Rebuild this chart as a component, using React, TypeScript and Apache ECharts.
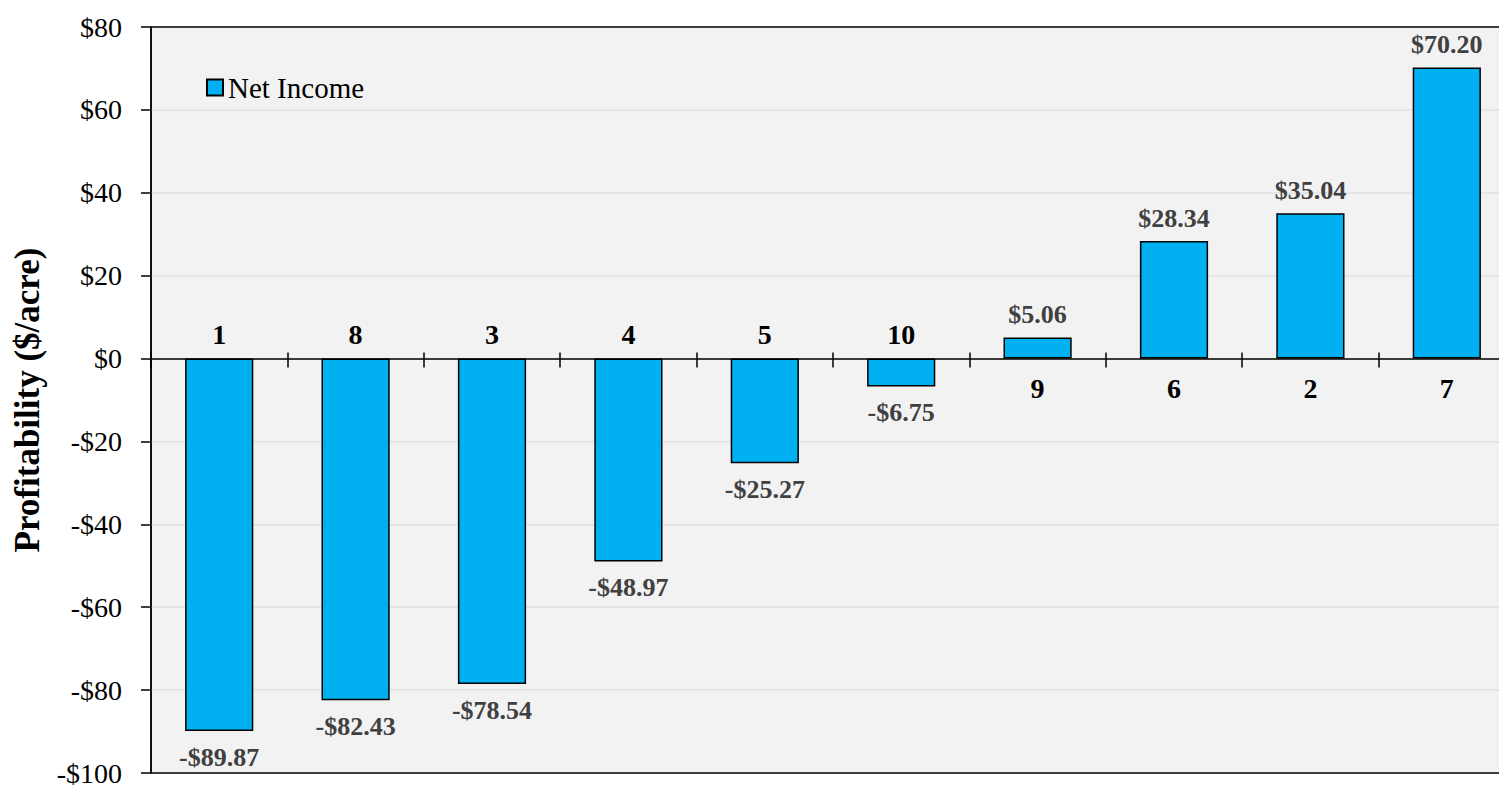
import React, { useEffect, useRef } from "react";
import * as echarts from "echarts";

const categories = ["1", "8", "3", "4", "5", "10", "9", "6", "2", "7"];
const netIncome = [-89.87, -82.43, -78.54, -48.97, -25.27, -6.75, 5.06, 28.34, 35.04, 70.2];
const yTicks = { min: -100, max: 80, interval: 20 };

const FONT = "'Liberation Serif', 'Times New Roman', serif";

const money = (v: number, digits: number) =>
  v < 0 ? "-$" + Math.abs(v).toFixed(digits) : "$" + v.toFixed(digits);

export default function App() {
  const ref = useRef<HTMLDivElement>(null);
  useEffect(() => {
    if (!ref.current) return;
    const chart = echarts.init(ref.current, undefined, { renderer: "svg" });
    chart.setOption({
      animation: false,
      backgroundColor: "#ffffff",
      textStyle: { fontFamily: FONT },
      legend: {
        show: true,
        left: 201,
        top: 68,
        icon: "rect",
        itemWidth: 16,
        itemHeight: 16,
        itemGap: 4,
        textStyle: { fontFamily: FONT, fontSize: 29, fontWeight: "normal", color: "#000" },
        data: ["Net Income"],
      },
      grid: {
        left: 151,
        top: 27,
        width: 1364,
        height: 746,
        outerBoundsMode: "none",
        containLabel: false,
        show: true,
        backgroundColor: "#f2f2f2",
        borderColor: "#000",
        borderWidth: 1.5,
      },
      xAxis: [
        {
          type: "category",
          data: categories,
          position: "bottom",
          axisLine: { onZero: true, onZeroAxisIndex: 0, lineStyle: { color: "#000", width: 1.5 } },
          axisTick: { show: true, length: 9, lineStyle: { color: "#000", width: 1.5 } },
          axisLabel: { show: false },
          splitLine: { show: false },
        },
        {
          type: "category",
          data: categories,
          position: "bottom",
          axisLine: { show: false, onZero: true, onZeroAxisIndex: 0 },
          axisTick: { show: true, inside: true, length: 6, lineStyle: { color: "#000", width: 1.5 } },
          axisLabel: { show: false },
          splitLine: { show: false },
        },
      ],
      yAxis: {
        type: "value",
        min: yTicks.min,
        max: yTicks.max,
        interval: yTicks.interval,
        name: "Profitability ($/acre)",
        nameLocation: "middle",
        nameGap: 106,
        nameRotate: 90,
        nameTextStyle: { fontFamily: FONT, fontSize: 35, fontWeight: "bold", color: "#000" },
        axisLine: { show: true, onZero: false, lineStyle: { color: "#000", width: 1.5 } },
        axisTick: { show: true, length: 10, lineStyle: { color: "#000", width: 1.5 } },
        axisLabel: {
          margin: 29,
          fontFamily: FONT,
          fontSize: 28,
          color: "#000",
          formatter: (v: number) => money(v, 0),
        },
        splitLine: {
          show: true,
          showMinLine: false,
          showMaxLine: false,
          lineStyle: { color: "#e0e0e0", width: 1.5 },
        },
      },
      series: [
        {
          name: "Net Income",
          type: "bar",
          xAxisIndex: 0,
          barWidth: "50%",
          itemStyle: { color: "#00b0f0", borderColor: "#000", borderWidth: 1.5 },
          data: netIncome.map((v) => ({
            value: v,
            label: { position: v < 0 ? "bottom" : "top", distance: v < 0 ? 13 : 10 },
          })),
          label: {
            show: true,
            fontFamily: FONT,
            fontSize: 26,
            fontWeight: "bold",
            color: "#404040",
            formatter: (p: any) => money(p.value, 2),
          },
          z: 3,
        },
        {
          name: "categoryLabels",
          type: "bar",
          xAxisIndex: 0,
          barWidth: "50%",
          barGap: "-100%",
          silent: true,
          itemStyle: { color: "transparent", borderWidth: 0 },
          data: netIncome.map((v, i) => ({
            value: 0,
            name: categories[i],
            label: { position: v < 0 ? "top" : "bottom", distance: v < 0 ? 10 : 16 },
          })),
          label: {
            show: true,
            fontFamily: FONT,
            fontSize: 28,
            fontWeight: "bold",
            color: "#000",
            formatter: (p: any) => categories[p.dataIndex],
          },
          z: 4,
        },
      ],
    });
    return () => chart.dispose();
  }, []);
  return (
    <div
      ref={ref}
      style={{ position: "absolute", left: 0, top: 0, width: 1499, height: 787 }}
    />
  );
}
